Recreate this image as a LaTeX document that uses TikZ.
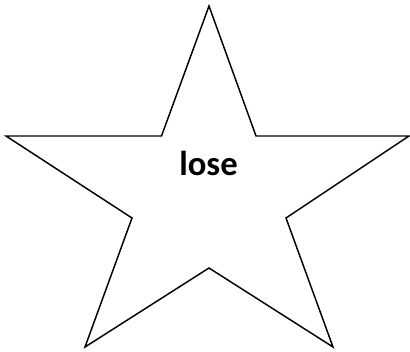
\documentclass[tikz,border=0pt]{standalone}
\usepackage{fontspec}
\setmainfont{Carlito}
\usepackage{tikz}

\begin{document}
\begin{tikzpicture}[
        x=0.75pt, y=-0.75pt,
        starline/.style={draw, line width=1.1pt, line join=miter},
        label/.style={font=\bfseries\fontsize{26}{30}\selectfont, inner sep=0pt, anchor=base}
    ]
    \useasboundingbox (0,0) rectangle (410,351);

    % Star points
    \coordinate (top) at (209,6);
    \coordinate (nl) at (161.5,136);
    \coordinate (wl) at (6,136);
    \coordinate (sl) at (132,218);
    \coordinate (bl) at (85,347);
    \coordinate (bm) at (209,268);
    \coordinate (br) at (333,347);
    \coordinate (sr) at (286,218);
    \coordinate (er) at (409,136);
    \coordinate (nr) at (256,136);

    % Outline
    \draw[starline] (top) -- (nl) -- (wl) -- (sl) -- (bl) -- (bm) -- (br) -- (sr) -- (er) -- (nr) -- cycle;

    % Text
    \node[label] (word) at (208.5,175) {lose};

\end{tikzpicture}
\end{document}
